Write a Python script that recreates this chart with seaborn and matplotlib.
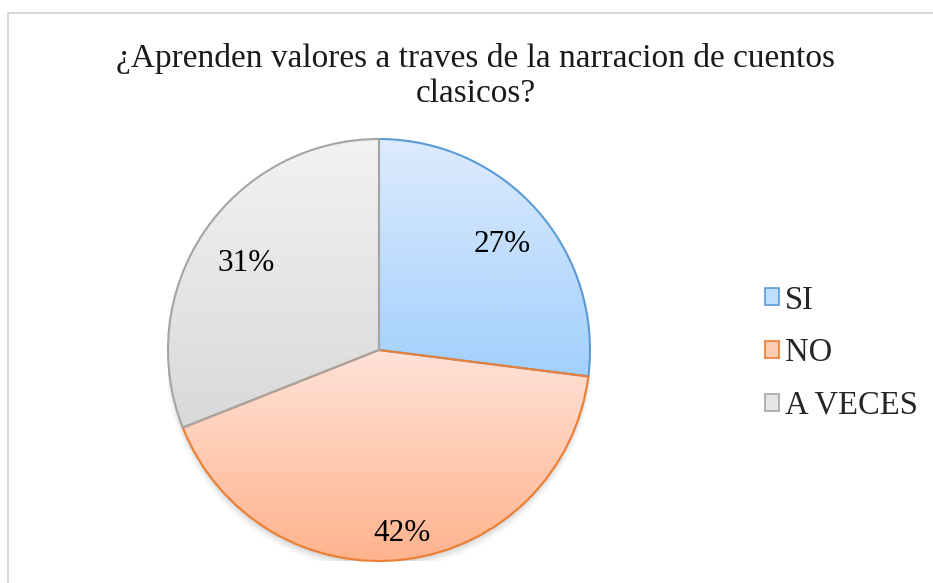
import numpy as np
import matplotlib
matplotlib.use("Agg")
import matplotlib.pyplot as plt
import seaborn as sns
from matplotlib.colors import LinearSegmentedColormap
from matplotlib.patches import Patch, Rectangle

sns.set_theme(style="white")
plt.rcParams['font.family'] = ['Liberation Serif', 'DejaVu Serif']

categories = ["SI", "NO", "A VECES"]
values = [27, 42, 31]
title = "¿Aprenden valores a traves de la narracion de cuentos\nclasicos?"

top_colors = ["#DDEBFD", "#FFE2D7", "#F2F2F2"]
bottom_colors = ["#A3D0FD", "#FFB28C", "#D9D9D9"]
edge_colors = ["#5B9BD5", "#ED7D31", "#A5A5A5"]
label_dist = [0.78, 0.86, 0.76]

W, H = 933, 583
fig = plt.figure(figsize=(W / 100, H / 100), dpi=100)
fig.patch.set_facecolor("white")

# outer chart border
fig.patches.append(Rectangle((8 / W, -0.05), 1.0, (H - 13) / H + 0.05,
                             transform=fig.transFigure, fill=False,
                             edgecolor="#D9D9D9", linewidth=1.5))

cx, cy, r = 379, 350, 211
ax = fig.add_axes([(cx - r) / W, (H - cy - r) / H, 2 * r / W, 2 * r / H])
ax.axis("off")

# soft shadow
for i, a in enumerate(np.linspace(0.05, 0.01, 5)):
    sh = plt.Circle((0.0, -0.012 - 0.006 * i), 1.0 + 0.004 * i, color="black",
                    alpha=a, zorder=0, linewidth=0)
    ax.add_patch(sh)

wedges, _ = ax.pie(values, startangle=90, counterclock=False, radius=1,
                   colors=bottom_colors,
                   wedgeprops=dict(linewidth=1.5, zorder=2))

total = sum(values)
cum = 0
for w, v, tc, bc, ec, d in zip(wedges, values, top_colors, bottom_colors,
                               edge_colors, label_dist):
    w.set_facecolor("none")
    w.set_edgecolor(ec)
    w.set_zorder(3)
    verts = w.get_path().vertices
    x0, y0 = verts[:, 0].min(), verts[:, 1].min()
    x1, y1 = verts[:, 0].max(), verts[:, 1].max()
    cmap = LinearSegmentedColormap.from_list("g", [bc, tc])
    grad = np.linspace(0, 1, 256).reshape(-1, 1)
    im = ax.imshow(grad, cmap=cmap, extent=[x0, x1, y0, y1], origin="lower",
                   aspect="auto", zorder=1, interpolation="bilinear")
    im.set_clip_path(w.get_path(), ax.transData)
    mid = 90 - 360 * (cum + v / 2) / total
    cum += v
    ax.text(d * np.cos(np.radians(mid)), d * np.sin(np.radians(mid)),
            f"{v}%", ha="center", va="center_baseline", fontsize=22.5,
            color="black", zorder=5)

ax.set_xlim(-1, 1)
ax.set_ylim(-1, 1)
ax.set_aspect("equal")

fig.text(475.5 / W, 1 - 76 / H, title, ha="center", va="center",
         fontsize=24, linespacing=1.2, color="#1a1a1a")

handles = [Patch(facecolor=m, edgecolor=e, linewidth=1.2)
           for m, e in zip(["#C0DEFD", "#FFCBB1", "#E6E6E6"], edge_colors)]
leg = fig.legend(handles, categories, loc="center left",
                 bbox_to_anchor=(765 / W, (H - 353) / H), frameon=False,
                 fontsize=23.5, handlelength=0.42, handleheight=0.42,
                 handletextpad=0.2, labelspacing=0.68, borderpad=0,
                 borderaxespad=0)

fig.savefig("out.png", dpi=100, facecolor="white")
